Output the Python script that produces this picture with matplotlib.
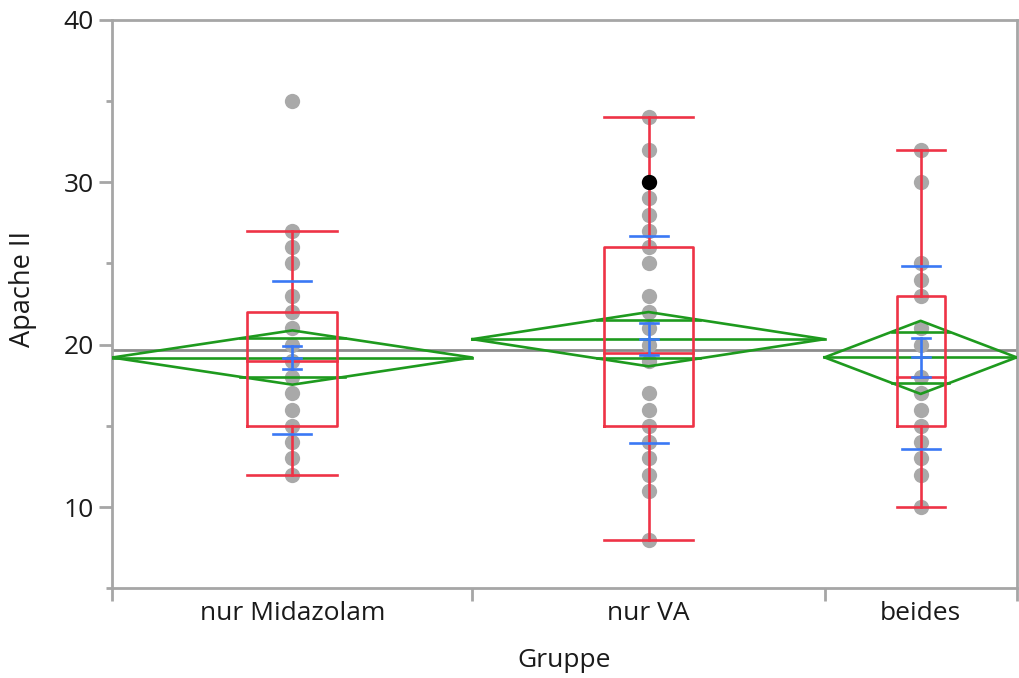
import matplotlib
matplotlib.use("Agg")
import matplotlib.pyplot as plt
import numpy as np

plt.rcParams['font.family'] = ['Open Sans', 'DejaVu Sans']

# ---- data ----
groups = ["nur Midazolam", "nur VA", "beides"]
group_n = [45, 44, 24]  # group sizes (x widths proportional)

points_midazolam = [35, 27, 26, 25, 23, 22, 21, 20, 19, 18, 17, 16, 15, 14, 13, 12]
points_va = [34, 32, 30, 29, 28, 27, 26, 25, 23, 22, 21, 20, 19, 17, 16, 15, 14, 13, 12, 11, 8]
points_beides = [32, 30, 25, 24, 23, 21, 20, 18, 17, 16, 15, 14, 13, 12, 10]
highlight_group = 1
highlight_value = 30

means = [19.2, 20.33, 19.21]
std_devs = [4.7, 6.37, 5.62]
std_errs = [0.72, 1.0, 1.2]
ci_half = [1.67, 1.67, 2.25]

q1 = [15, 15, 15]
medians = [19, 19.5, 18]
q3 = [22, 26, 23]
whisk_lo = [12, 8, 10]
whisk_hi = [27, 34, 32]

grand_mean = 19.65

yticks_major = [10, 20, 30, 40]
yticks_minor = [5, 15, 25, 35]

# ---- styling ----
RED = "#EE3346"
GREEN = "#1E9A1E"
BLUE = "#3A78F5"
PTGRAY = "#A9A9A9"
AXGRAY = "#A6A6A6"
FS = 19

fig = plt.figure(figsize=(10.19, 6.78), dpi=100)
ax = fig.add_axes([0.1102, 0.1323, 0.8875, 0.8389])

bounds = np.concatenate([[0], np.cumsum(group_n)])
total = bounds[-1]
centers = (bounds[:-1] + bounds[1:]) / 2
px = total / 904.4  # data units per pixel

all_points = [points_midazolam, points_va, points_beides]

# grand mean
ax.axhline(grand_mean, color="#8C8C8C", lw=2.0, zorder=2)

for i in range(3):
    c = centers[i]
    L, R = bounds[i], bounds[i + 1]
    vals = np.array(all_points[i])
    ax.plot(np.full(len(vals), c), vals, 'o', color=PTGRAY, ms=11, mec='none', zorder=3)

    # means diamond
    m, h = means[i], ci_half[i]
    ax.plot([L, c, R, c, L], [m, m + h, m, m - h, m], color=GREEN, lw=1.9, zorder=4)
    ax.plot([L, R], [m, m], color=GREEN, lw=1.9, zorder=4)
    ov = h / np.sqrt(2)
    hw = (R - L) / 2 * (1 - 1 / np.sqrt(2))
    for y in (m + ov, m - ov):
        ax.plot([c - hw, c + hw], [y, y], color=GREEN, lw=1.9, zorder=4)

    # box plot
    bw = 0.25 * (R - L) / 2
    ax.plot([c - bw, c + bw, c + bw, c - bw, c - bw], [q1[i], q1[i], q3[i], q3[i], q1[i]],
            color=RED, lw=1.9, zorder=5)
    ax.plot([c - bw, c + bw], [medians[i]] * 2, color=RED, lw=1.9, zorder=5)
    ax.plot([c, c], [q3[i], whisk_hi[i]], color=RED, lw=1.9, zorder=5)
    ax.plot([c, c], [q1[i], whisk_lo[i]], color=RED, lw=1.9, zorder=5)
    ax.plot([c - bw, c + bw], [whisk_hi[i]] * 2, color=RED, lw=1.9, zorder=5)
    ax.plot([c - bw, c + bw], [whisk_lo[i]] * 2, color=RED, lw=1.9, zorder=5)

    # std dev marks
    sdh = 19 * px
    for y in (m + std_devs[i], m - std_devs[i]):
        ax.plot([c - sdh, c + sdh], [y, y], color=BLUE, lw=1.9, zorder=6)
    # mean error bars
    seh = 9 * px
    for y in (m + std_errs[i], m, m - std_errs[i]):
        ax.plot([c - seh, c + seh], [y, y], color=BLUE, lw=1.9, zorder=6)
    ax.plot([c, c], [m - std_errs[i], m + std_errs[i]], color=BLUE, lw=1.9, zorder=6)

# highlighted (selected) point
ax.plot([centers[highlight_group]], [highlight_value], 'o', color='black', ms=11, mec='none', zorder=7)

ax.set_xlim(0, total)
ax.set_ylim(5, 40)
ax.set_yticks(yticks_major)
ax.set_yticks(yticks_minor, minor=True)
ax.set_xticks(bounds)
ax.set_xticklabels([])
ax.set_xticks(centers, minor=True)
ax.set_xticklabels(groups, minor=True)

for s in ax.spines.values():
    s.set_color(AXGRAY)
    s.set_linewidth(2.0)

ax.tick_params(axis='y', which='major', length=9.5, width=2, color=AXGRAY, labelsize=FS, pad=4,
               labelcolor="#1a1a1a")
ax.tick_params(axis='y', which='minor', length=4.5, width=2, color=AXGRAY)
ax.tick_params(axis='x', which='major', length=9.5, width=2, color=AXGRAY)
ax.tick_params(axis='x', which='minor', length=0, labelsize=FS, pad=9, labelcolor="#1a1a1a")

ax.text(-0.0987, 0.526, "Apache II", rotation=90, ha='center', va='center',
        fontsize=19.5, color="#1a1a1a", transform=ax.transAxes)
ax.set_xlabel("Gruppe", fontsize=FS, labelpad=16, color="#1a1a1a")

fig.savefig("out.png", dpi=100)
